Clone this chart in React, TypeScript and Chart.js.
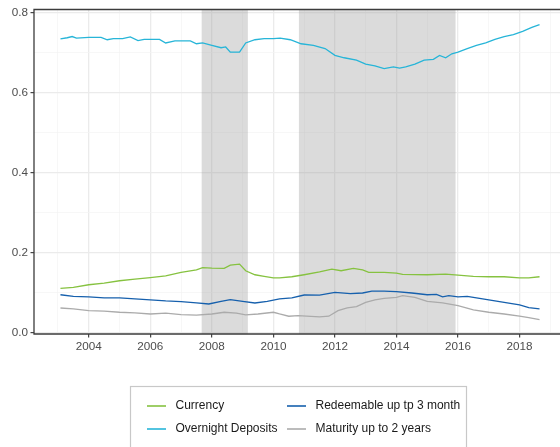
import React, { useEffect, useRef } from "react";
import { Chart, registerables } from "chart.js";

Chart.register(...registerables);

const seriesNames = ["Currency", "Overnight Deposits", "Redeemable up tp 3 month", "Maturity up to 2 years"];
const seriesColors = ["#86c240", "#27b5d8", "#1660ad", "#ababab"];

const overnightYears = [2003.08, 2003.3, 2003.46, 2003.6, 2004.0, 2004.4, 2004.6, 2004.8, 2005.1, 2005.35, 2005.6, 2005.8, 2006.0, 2006.3, 2006.5, 2006.8, 2007.1, 2007.3, 2007.5, 2007.7, 2008.0, 2008.3, 2008.45, 2008.6, 2008.9, 2009.1, 2009.4, 2009.7, 2010.0, 2010.22, 2010.55, 2010.9, 2011.3, 2011.68, 2012.0, 2012.3, 2012.7, 2013.0, 2013.3, 2013.6, 2013.9, 2014.1, 2014.3, 2014.6, 2014.9, 2015.2, 2015.4, 2015.6, 2015.8, 2016.0, 2016.3, 2016.6, 2016.9, 2017.2, 2017.5, 2017.8, 2018.1, 2018.4, 2018.65];
const overnightValues = [0.734, 0.737, 0.740, 0.736, 0.738, 0.738, 0.732, 0.735, 0.735, 0.739, 0.730, 0.733, 0.733, 0.733, 0.724, 0.729, 0.729, 0.729, 0.722, 0.724, 0.718, 0.712, 0.714, 0.701, 0.701, 0.724, 0.732, 0.735, 0.735, 0.736, 0.732, 0.722, 0.718, 0.710, 0.693, 0.687, 0.681, 0.671, 0.667, 0.660, 0.664, 0.661, 0.664, 0.671, 0.681, 0.683, 0.693, 0.687, 0.697, 0.701, 0.710, 0.718, 0.724, 0.733, 0.740, 0.745, 0.753, 0.763, 0.770];

const currencyYears = [2003.08, 2003.5, 2004.0, 2004.5, 2005.0, 2005.5, 2006.0, 2006.5, 2007.0, 2007.5, 2007.7, 2008.0, 2008.4, 2008.6, 2008.9, 2009.1, 2009.4, 2009.7, 2010.0, 2010.2, 2010.6, 2011.0, 2011.5, 2011.9, 2012.2, 2012.6, 2012.9, 2013.1, 2013.6, 2014.0, 2014.2, 2015.0, 2015.6, 2016.0, 2016.5, 2017.0, 2017.5, 2018.0, 2018.3, 2018.65];
const currencyValues = [0.111, 0.1135, 0.120, 0.124, 0.130, 0.134, 0.138, 0.142, 0.151, 0.157, 0.163, 0.1615, 0.161, 0.169, 0.1715, 0.155, 0.145, 0.141, 0.137, 0.137, 0.140, 0.145, 0.152, 0.159, 0.155, 0.161, 0.157, 0.151, 0.151, 0.149, 0.146, 0.145, 0.1465, 0.144, 0.141, 0.140, 0.140, 0.137, 0.137, 0.140];

const redeemYears = [2003.08, 2003.5, 2004.0, 2004.5, 2005.0, 2005.5, 2006.0, 2006.5, 2007.0, 2007.5, 2007.9, 2008.3, 2008.6, 2009.0, 2009.4, 2009.8, 2010.2, 2010.6, 2011.0, 2011.5, 2012.0, 2012.5, 2012.9, 2013.2, 2013.6, 2014.0, 2014.5, 2015.0, 2015.3, 2015.5, 2015.7, 2016.0, 2016.3, 2016.7, 2017.0, 2017.5, 2018.0, 2018.3, 2018.65];
const redeemValues = [0.095, 0.091, 0.0895, 0.087, 0.087, 0.0845, 0.082, 0.0795, 0.078, 0.0745, 0.072, 0.0787, 0.0828, 0.0787, 0.0745, 0.0787, 0.0845, 0.087, 0.0944, 0.094, 0.101, 0.0977, 0.0994, 0.104, 0.104, 0.1027, 0.0994, 0.095, 0.096, 0.090, 0.0927, 0.0895, 0.091, 0.086, 0.082, 0.076, 0.0696, 0.063, 0.0597];

const maturityYears = [2003.08, 2003.5, 2004.0, 2004.5, 2005.0, 2005.5, 2006.0, 2006.5, 2007.0, 2007.5, 2008.0, 2008.4, 2008.8, 2009.1, 2009.5, 2010.0, 2010.2, 2010.5, 2010.8, 2011.5, 2011.8, 2012.1, 2012.4, 2012.7, 2013.0, 2013.3, 2013.6, 2014.0, 2014.2, 2014.6, 2015.0, 2015.5, 2016.0, 2016.5, 2017.0, 2017.5, 2018.0, 2018.3, 2018.65];
const maturityValues = [0.062, 0.0597, 0.0555, 0.054, 0.0513, 0.0497, 0.047, 0.049, 0.0455, 0.044, 0.047, 0.0513, 0.049, 0.0447, 0.047, 0.0513, 0.047, 0.0414, 0.043, 0.040, 0.0414, 0.0555, 0.062, 0.0654, 0.076, 0.082, 0.086, 0.0886, 0.0927, 0.0886, 0.0787, 0.0745, 0.068, 0.057, 0.0513, 0.047, 0.0414, 0.038, 0.033];

const shadeStarts = [2007.67, 2010.83];
const shadeEnds = [2009.17, 2015.92];

const xTickValues = [2003, 2004, 2005, 2006, 2007, 2008, 2009, 2010, 2011, 2012, 2013, 2014, 2015, 2016, 2017, 2018, 2019];
const yTickValues = [0, 0.1, 0.2, 0.3, 0.4, 0.5, 0.6, 0.7, 0.8];

const toPoints = (xs: number[], ys: number[]) => xs.map((x, i) => ({ x, y: ys[i] }));

const FONT = "'Liberation Sans', Arial, sans-serif";

export default function App() {
  const ref = useRef<HTMLCanvasElement | null>(null);

  useEffect(() => {
    if (!ref.current) return;
    const isMajorX = (v: number) => Math.round(v) % 2 === 0;
    const isMajorY = (v: number) => Math.round(v * 10) % 2 === 0;

    const shadePlugin = {
      id: "shade",
      beforeDatasetsDraw(chart: any) {
        const { ctx, chartArea, scales } = chart;
        ctx.save();
        ctx.fillStyle = "rgba(150,150,150,0.34)";
        shadeStarts.forEach((s, i) => {
          const x0 = scales.x.getPixelForValue(s);
          const x1 = scales.x.getPixelForValue(shadeEnds[i]);
          ctx.fillRect(x0, chartArea.top, x1 - x0, chartArea.bottom - chartArea.top);
        });
        ctx.restore();
      },
    };

    const framePlugin = {
      id: "frame",
      afterDraw(chart: any) {
        const { ctx, chartArea } = chart;
        ctx.save();
        ctx.strokeStyle = "#3c3c3c";
        ctx.lineWidth = 1.3;
        ctx.beginPath();
        ctx.moveTo(chartArea.right + 5, chartArea.top);
        ctx.lineTo(chartArea.left, chartArea.top);
        ctx.lineTo(chartArea.left, chartArea.bottom);
        ctx.lineTo(chartArea.right + 5, chartArea.bottom);
        ctx.stroke();
        ctx.restore();
      },
    };

    const legendPlugin = {
      id: "boxLegend",
      afterDraw(chart: any) {
        const { ctx } = chart;
        ctx.save();
        ctx.strokeStyle = "#c8c8c8";
        ctx.lineWidth = 1.2;
        ctx.strokeRect(130.5, 386.5, 336, 80);
        const cols = [147, 287];
        const rows = [406, 429];
        const order = [
          [0, 0],
          [1, 0],
          [0, 1],
          [1, 1],
        ];
        ctx.font = `12px ${FONT}`;
        ctx.textBaseline = "middle";
        ctx.textAlign = "left";
        chart.data.datasets.forEach((ds: any, i: number) => {
          const [r, c] = order[i];
          const x = cols[c];
          const y = rows[r];
          ctx.strokeStyle = ds.borderColor;
          ctx.lineWidth = 1.6;
          ctx.beginPath();
          ctx.moveTo(x, y);
          ctx.lineTo(x + 19, y);
          ctx.stroke();
          ctx.fillStyle = "#1a1a1a";
          ctx.fillText(ds.label, x + 28.5, y);
        });
        ctx.restore();
      },
    };

    const seriesData = [
      toPoints(currencyYears, currencyValues),
      toPoints(overnightYears, overnightValues),
      toPoints(redeemYears, redeemValues),
      toPoints(maturityYears, maturityValues),
    ];

    const chart = new Chart(ref.current, {
      type: "line",
      data: {
        datasets: seriesNames.map((name, i) => ({
          label: name,
          data: seriesData[i],
          borderColor: seriesColors[i],
          backgroundColor: seriesColors[i],
          borderWidth: 1.3,
          pointRadius: 0,
          tension: 0,
          fill: false,
        })),
      },
      options: {
        responsive: false,
        animation: false,
        devicePixelRatio: 1,
        layout: { padding: { left: 0, right: 0, top: 9, bottom: 93 } },
        plugins: { legend: { display: false }, tooltip: { enabled: false } },
        scales: {
          x: {
            type: "linear",
            min: 2002.22,
            max: 2019.315,
            afterFit: (s: any) => {
              s.height = 20;
            },
            afterBuildTicks: (s: any) => {
              s.ticks = xTickValues.map((v) => ({ value: v }));
            },
            grid: {
              color: (c: any) => (isMajorX(c.tick?.value ?? 0) ? "#ebebeb" : "#f3f3f3"),
              lineWidth: (c: any) => (isMajorX(c.tick?.value ?? 0) ? 1.3 : 0.7),
              tickColor: (c: any) => (isMajorX(c.tick?.value ?? 0) ? "#333333" : "rgba(0,0,0,0)"),
              tickLength: 3.5,
              tickWidth: 1.1,
              drawTicks: true,
            },
            border: { display: false },
            ticks: {
              autoSkip: false,
              maxRotation: 0,
              padding: 2,
              color: "#4d4d4d",
              font: { family: FONT, size: 11.7 },
              callback: (v: any) => (isMajorX(Number(v)) ? String(v) : ""),
            },
          },
          y: {
            type: "linear",
            min: -0.003,
            max: 0.8075,
            afterFit: (s: any) => {
              s.width = 34;
            },
            afterBuildTicks: (s: any) => {
              s.ticks = yTickValues.map((v) => ({ value: v }));
            },
            grid: {
              color: (c: any) => (isMajorY(c.tick?.value ?? 0) ? "#ebebeb" : "#f3f3f3"),
              lineWidth: (c: any) => (isMajorY(c.tick?.value ?? 0) ? 1.3 : 0.7),
              tickColor: (c: any) => (isMajorY(c.tick?.value ?? 0) ? "#333333" : "rgba(0,0,0,0)"),
              tickLength: 3.5,
              tickWidth: 1.1,
              drawTicks: true,
            },
            border: { display: false },
            ticks: {
              autoSkip: false,
              padding: 2.5,
              color: "#4d4d4d",
              font: { family: FONT, size: 11.7 },
              callback: (v: any) => (isMajorY(Number(v)) ? Number(v).toFixed(1) : ""),
            },
          },
        },
      },
      plugins: [shadePlugin, framePlugin, legendPlugin],
    } as any);

    return () => chart.destroy();
  }, []);

  return (
    <canvas
      ref={ref}
      width={560}
      height={447}
      style={{ position: "fixed", left: 0, top: 0, width: 560, height: 447, background: "#ffffff" }}
    />
  );
}
